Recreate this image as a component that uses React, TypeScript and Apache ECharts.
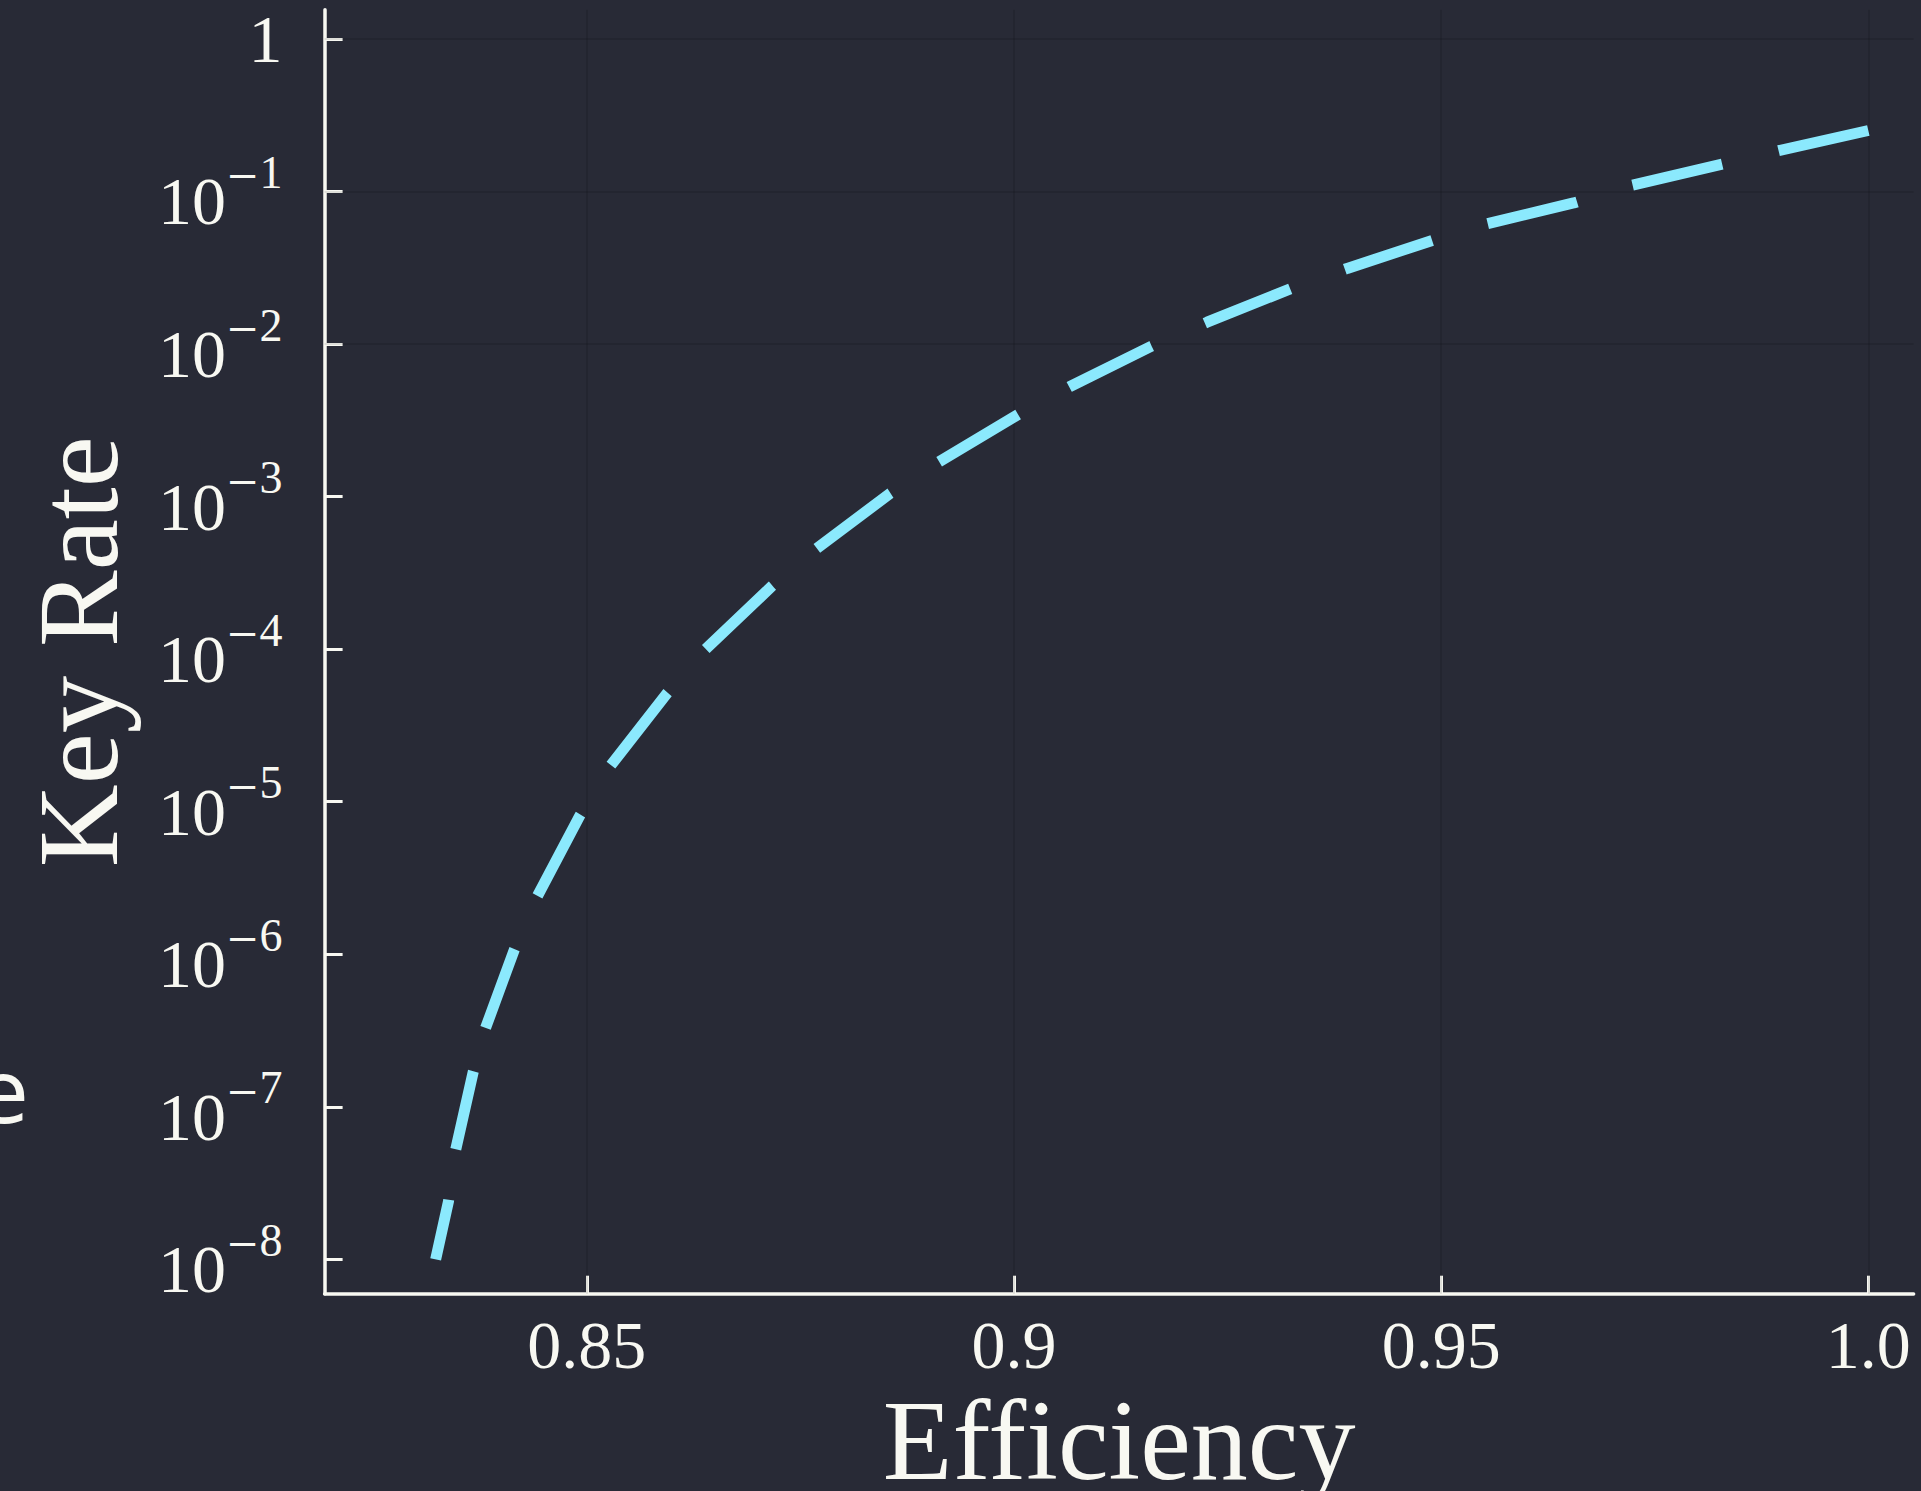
import React, { useEffect, useRef } from "react";
import * as echarts from "echarts";

// Data (efficiency vs key rate)
const efficiency: number[] = [
  0.8323, 0.8338, 0.8346, 0.8367, 0.8381, 0.8415, 0.8442, 0.8492, 0.8528, 0.8594,
  0.8639, 0.8717, 0.8769, 0.8855, 0.8912, 0.9005, 0.9065, 0.9161, 0.9226, 0.9325,
  0.939, 0.9491, 0.9553, 0.9655, 0.9724, 0.9829, 0.9895, 1.0,
];
const keyRate: number[] = [
  1.0e-8, 2.4e-8, 5.1e-8, 1.7e-7, 3.24e-7, 1.07e-6, 2.4e-6, 8.15e-6, 1.73e-5, 5.15e-5,
  1.0e-4, 2.6e-4, 4.57e-4, 1.05e-3, 1.69e-3, 3.46e-3, 5.25e-3, 9.7e-3, 1.39e-2, 2.32e-2,
  3.13e-2, 4.81e-2, 6.12e-2, 8.41e-2, 0.11, 0.151, 0.185, 0.251,
];
const xTicks: number[] = [0.85, 0.9, 0.95, 1.0];
const xTickLabels: string[] = ["0.85", "0.9", "0.95", "1.0"];
const yTicks: number[] = [1e-8, 1e-7, 1e-6, 1e-5, 1e-4, 1e-3, 1e-2, 1e-1, 1];

const BG = "#282A36";
const FG = "#F8F8F2";
const LINE = "#8BE9FD";
const GRID = "rgba(0,0,0,0.1)";
const SERIF = "'Liberation Serif', 'DejaVu Serif', serif";
const MINUS_FONT = "'DejaVu Serif', serif";

export default function App() {
  const ref = useRef<HTMLDivElement>(null);

  useEffect(() => {
    document.body.style.margin = "0";
    document.body.style.background = BG;
    if (!ref.current) return;
    const chart = echarts.init(ref.current, null, { renderer: "svg" });
    const data = efficiency.map((x, i) => [x, keyRate[i]]);
    const gridLines = [
      ...xTicks.map((v) => ({ xAxis: v })),
      ...yTicks.map((v) => ({ yAxis: v })),
    ];
    const P = 40;
    const T = 20;
    chart.setOption({
      animation: false,
      backgroundColor: BG,
      grid: {
        left: 324.6,
        top: 9.8,
        width: 1589,
        height: 1283.9,
        containLabel: false,
        outerBoundsMode: "none",
      },
      xAxis: {
        type: "value",
        min: 0.8193,
        max: 1.0053,
        name: "Efficiency",
        nameLocation: "middle",
        nameGap: 81,
        nameTextStyle: { color: FG, fontFamily: SERIF, fontSize: 114, verticalAlign: "top" },
        axisLine: { show: true, onZero: false, lineStyle: { color: FG, width: 3.5 } },
        axisTick: { show: true, inside: true, length: 18, customValues: xTicks, lineStyle: { color: FG, width: 3 } },
        axisLabel: {
          show: true,
          customValues: xTicks,
          margin: 17,
          color: FG,
          fontFamily: SERIF,
          fontSize: 68,
          formatter: (v: number) => {
            const i = xTicks.findIndex((t) => Math.abs(t - v) < 1e-9);
            return i >= 0 ? xTickLabels[i] : "";
          },
        },
        splitLine: { show: false },
      },
      yAxis: {
        type: "log",
        logBase: 10,
        min: 5.96e-9,
        max: 1.552,
        name: "Key Rate",
        nameLocation: "middle",
        nameRotate: 90,
        nameGap: 189,
        nameTextStyle: { color: FG, fontFamily: SERIF, fontSize: 115 },
        axisLine: { show: true, onZero: false, lineStyle: { color: FG, width: 3.5 } },
        axisTick: { show: true, inside: true, length: 18, customValues: yTicks, lineStyle: { color: FG, width: 3 } },
        axisLabel: {
          show: true,
          customValues: yTicks,
          margin: 42,
          color: FG,
          fontFamily: SERIF,
          padding: [T, 0, 0, 0],
          formatter: (v: number) => {
            const e = Math.round(Math.log10(v));
            if (e === 0) return "{one|1}";
            return "{b|10}{m|\u2212}{s|" + -e + "}";
          },
          rich: {
            one: { fontSize: 68, color: FG, fontFamily: SERIF, lineHeight: 68, padding: [0, 0, T, 0] },
            b: { fontSize: 68, color: FG, fontFamily: SERIF, lineHeight: 68, verticalAlign: "bottom" },
            m: { fontSize: 40, color: FG, fontFamily: MINUS_FONT, lineHeight: 46, verticalAlign: "bottom", padding: [0, 0, P, 0] },
            s: { fontSize: 46, color: FG, fontFamily: SERIF, lineHeight: 46, verticalAlign: "bottom", padding: [0, 0, P, 0] },
          },
        },
        splitLine: { show: false },
      },
      graphic: [
        {
          type: "text",
          x: 29,
          y: 1092,
          silent: true,
          style: {
            text: "e",
            fill: FG,
            font: "88px 'DejaVu Sans', sans-serif",
            textAlign: "right",
            textVerticalAlign: "middle",
          },
        },
      ],
      series: [
        {
          type: "line",
          data,
          showSymbol: false,
          symbol: "none",
          smooth: false,
          z: 3,
          lineStyle: { color: LINE, width: 11, type: [92, 58], dashOffset: 0, cap: "butt" },
          markLine: {
            silent: true,
            z: 1,
            symbol: "none",
            label: { show: false },
            lineStyle: { color: GRID, width: 2, type: "solid" },
            data: gridLines,
          },
        },
      ],
    });

    // Dash pattern: a few shorter dashes near the start, then a regular
    // 92/58 pattern scaled so the line ends exactly at the end of a dash.
    const pts = data.map((d) => chart.convertToPixel({ xAxisIndex: 0, yAxisIndex: 0 }, d) as number[]);
    let L = 0;
    for (let i = 1; i < pts.length; i++) {
      L += Math.hypot(pts[i][0] - pts[i - 1][0], pts[i][1] - pts[i - 1][1]);
    }
    const lead = [61, 51, 80, 45, 84, 58];
    const leadSum = lead.reduce((a, b) => a + b, 0);
    const rest = L - leadSum;
    if (rest > 150 + 92) {
      const m = Math.max(1, Math.round((rest - 92) / 150));
      const s = rest / (m * 150 + 92);
      const arr: number[] = [...lead];
      for (let i = 0; i < m; i++) arr.push(92 * s, 58 * s);
      arr.push(92 * s, 10000);
      chart.setOption({ series: [{ lineStyle: { type: arr, dashOffset: 0 } }] });
    }
    return () => chart.dispose();
  }, []);

  return <div ref={ref} style={{ width: 1921, height: 1491, background: BG }} />;
}
